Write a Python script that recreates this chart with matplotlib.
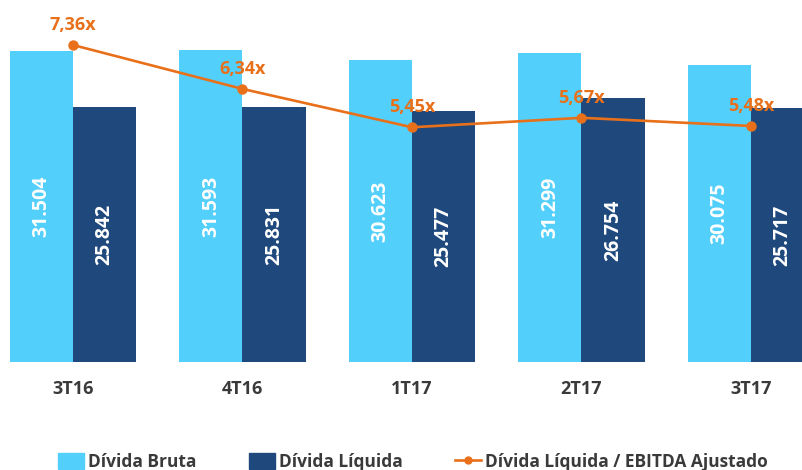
import matplotlib
matplotlib.use("Agg")
import matplotlib.pyplot as plt
import numpy as np
from matplotlib.patches import Patch
from matplotlib.lines import Line2D

categories = ['3T16', '4T16', '1T17', '2T17', '3T17']
divida_bruta = [31504, 31593, 30623, 31299, 30075]
divida_liquida = [25842, 25831, 25477, 26754, 25717]
ratio = [7.36, 6.34, 5.45, 5.67, 5.48]

light = '#52CFFA'
dark = '#1F497D'
orange = '#E8701A'
txt = '#3A3A3A'

plt.rcParams['font.family'] = ['Open Sans', 'DejaVu Sans']

W, H = 803, 470
fig = plt.figure(figsize=(W / 100, H / 100), dpi=100)
bottom_px = 362
ax = fig.add_axes([0, (H - bottom_px) / H, 1, bottom_px / H])

x = np.arange(len(categories))
bw = 0.372
spacing = 169.5
ax.set_xlim(-73 / spacing, (W - 73) / spacing)
ax.set_ylim(0, bottom_px / 0.00987)

b1 = ax.bar(x - bw / 2, divida_bruta, bw, color=light)
b2 = ax.bar(x + bw / 2, divida_liquida, bw, color=dark)

for xi, v in zip(x - bw / 2, divida_bruta):
    ax.text(xi, v / 2, f"{v:,}".replace(',', '.'), rotation=90, ha='center', va='center',
            color='white', fontsize=14, fontweight='bold')
for xi, v in zip(x + bw / 2, divida_liquida):
    ax.text(xi, v / 2, f"{v:,}".replace(',', '.'), rotation=90, ha='center', va='center',
            color='white', fontsize=14, fontweight='bold')

ax.set_xticks(x)
ax.set_xticklabels(categories, fontsize=13, fontweight='bold', color=txt)
ax.tick_params(axis='x', length=0, pad=13)
ax.set_yticks([])
for s in ax.spines.values():
    s.set_visible(False)

ax2 = ax.twinx()
ax2.set_ylim(0, bottom_px / 43.07)
ax2.plot(x, ratio, color=orange, lw=1.9, marker='o', markersize=6.5)
for xi, r in zip(x, ratio):
    ax2.annotate(f"{r:.2f}x".replace('.', ','), (xi, r), xytext=(0, 14.5), textcoords='offset points',
                 ha='center', va='center', color=orange, fontsize=13, fontweight='bold',
                 annotation_clip=False)
ax2.set_yticks([])
for s in ax2.spines.values():
    s.set_visible(False)

handles = [Patch(color=light), Patch(color=dark),
           Line2D([0], [0], color=orange, lw=1.9, marker='o', markersize=5)]
labels = ['Dívida Bruta', 'Dívida Líquida', 'Dívida Líquida / EBITDA Ajustado']
fig.legend(handles, labels, loc='center', bbox_to_anchor=(413 / W, 1 - 462 / H), ncol=3,
           frameon=False, prop={'size': 12.5, 'weight': 'bold'}, handlelength=1.5,
           handleheight=1.0, handletextpad=0.25, columnspacing=3.0, labelcolor=txt)

fig.savefig('out.png', dpi=100)
